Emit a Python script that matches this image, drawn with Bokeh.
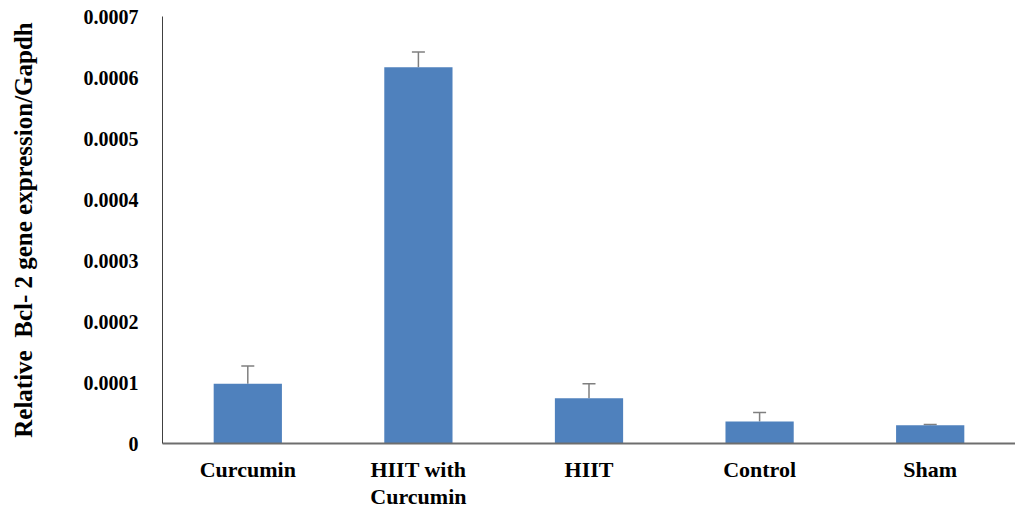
from bokeh.plotting import figure
from bokeh.models import ColumnDataSource, FixedTicker, Whisker, TeeHead, Range1d, FactorRange
from bokeh.embed import file_html
from bokeh.resources import INLINE

categories = ["Curcumin", "HIIT with\nCurcumin", "HIIT", "Control", "Sham"]
values = [0.000098, 0.000617, 0.000074, 0.000036, 0.000030]
errors = [0.000029, 0.000025, 0.000024, 0.000015, 0.000001]
y_ticks = [0, 0.0001, 0.0002, 0.0003, 0.0004, 0.0005, 0.0006, 0.0007]
y_tick_labels = ["0", "0.0001", "0.0002", "0.0003", "0.0004", "0.0005", "0.0006", "0.0007"]
y_label = "Relative\u00a0 Bcl- 2 gene expression/Gapdh"

upper = [v + e for v, e in zip(values, errors)]
src = ColumnDataSource(dict(x=categories, top=values, upper=upper))

FONT = "Liberation Serif"

p = figure(x_range=FactorRange(*categories), y_range=Range1d(0, 0.0007),
           width=1015, height=512, output_backend="svg", toolbar_location=None,
           min_border_left=162, min_border_top=16, min_border_right=0, min_border_bottom=0)
p.outline_line_color = None
p.grid.grid_line_color = None

p.vbar(x="x", top="top", width=0.4, source=src, fill_color="#4F81BD", line_color=None)
w = Whisker(base="x", lower="top", upper="upper", source=src, line_color="#7F7F7F", line_width=1.5,
            lower_head=None, upper_head=TeeHead(size=13, line_color="#7F7F7F", line_width=1.5))
p.add_layout(w)

p.yaxis.ticker = FixedTicker(ticks=y_ticks)
p.yaxis.major_label_overrides = {t: l for t, l in zip(y_ticks, y_tick_labels)}
p.yaxis.major_tick_line_color = None
p.yaxis.major_tick_out = 0
p.yaxis.major_tick_in = 0
p.yaxis.minor_tick_line_color = None
p.yaxis.axis_line_color = "#404040"
p.yaxis.axis_line_width = 1
p.yaxis.major_label_standoff = 24
p.yaxis.major_label_text_font = FONT
p.yaxis.major_label_text_font_style = "bold"
p.yaxis.major_label_text_font_size = "20px"
p.yaxis.major_label_text_color = "black"
p.yaxis.axis_label = y_label
p.yaxis.axis_label_text_font = FONT
p.yaxis.axis_label_text_font_style = "bold"
p.yaxis.axis_label_text_font_size = "25px"
p.yaxis.axis_label_text_color = "black"
p.yaxis.axis_label_standoff = 44

p.xaxis.major_tick_line_color = None
p.xaxis.major_tick_out = 0
p.xaxis.major_tick_in = 0
p.xaxis.minor_tick_line_color = None
p.xaxis.axis_line_color = "#6E6E6E"
p.xaxis.axis_line_width = 2
p.xaxis.major_label_standoff = 13
p.xaxis.major_label_text_font = FONT
p.xaxis.major_label_text_font_style = "bold"
p.xaxis.major_label_text_font_size = "22px"
p.xaxis.major_label_text_line_height = 1.1
p.xaxis.major_label_text_color = "black"
p.x_range.range_padding = 0
p.x_range.group_padding = 0

open("out.html", "w").write(file_html(p, INLINE))
